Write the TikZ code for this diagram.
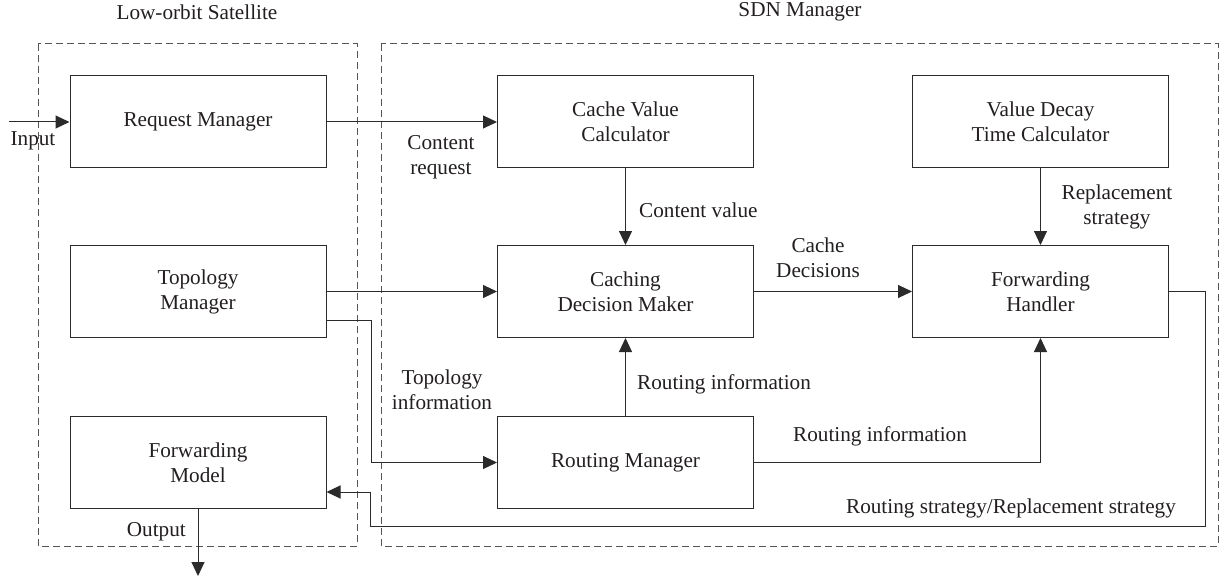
\documentclass[tikz,border=0pt]{standalone}
\usepackage{fontspec}
\setmainfont{Liberation Serif}
\usetikzlibrary{arrows.meta}
\definecolor{linec}{HTML}{2B2B2B}
\definecolor{dashc}{HTML}{555555}
\definecolor{txtc}{HTML}{231F20}
\begin{document}
\begin{tikzpicture}[x=1pt,y=-1pt,
  font=\fontsize{21.2}{25}\selectfont,
  blk/.style={draw=linec, line width=1pt, minimum width=256pt, minimum height=92pt, align=center, inner sep=0pt, text=txtc},
  conn/.style={draw=linec, line width=1pt, -{Triangle[length=14pt,width=13pt]}},
  grp/.style={draw=dashc, line width=1pt, dash pattern=on 7pt off 4pt},
  lbl/.style={align=center, inner sep=0pt, text=txtc}]
\fill[white] (0,0) rectangle (1225,580);
\useasboundingbox (0,0) rectangle (1225,580);

% groups
\draw[grp] (38,44) rectangle (357,546);
\draw[grp] (381,44) rectangle (1218,546);
\node[lbl] (tl) at (197,12) {Low-orbit Satellite};
\node[lbl] (tr) at (800,12) {SDN Manager};

% blocks
\node[blk] (reqm) at (198,122) {Request Manager};
\node[blk] (topm) at (198,291.5) {Topology\\Manager};
\node[blk] (fwdm) at (198,462.5) {Forwarding\\Model};
\node[blk] (cvc) at (625.5,122) {Cache Value\\Calculator};
\node[blk] (cdm) at (625.5,291.5) {Caching\\Decision Maker};
\node[blk] (rtm) at (625.5,462.5) {Routing Manager};
\node[blk] (vdt) at (1040.5,122) {Value Decay\\Time Calculator};
\node[blk] (fwh) at (1040.5,291.5) {Forwarding\\Handler};

% helper coordinates
\coordinate (in) at (9,122);
\coordinate (out) at (198,576);
\coordinate (tb) at (371,462.5);
\coordinate (fb1) at (1205,526);
\coordinate (fb2) at (370,492);

% connectors
\draw[conn] (in) -- (reqm.west);
\draw[conn] (reqm.east) -- (cvc.west);
\draw[conn] (topm.east) -- (cdm.west);
\draw[conn] ([yshift=-28.5pt]topm.east) -| (tb) -- (rtm.west);
\draw[conn] (cvc.south) -- (cdm.north);
\draw[conn] (vdt.south) -- (fwh.north);
\draw[conn] (cdm.east) -- (fwh.west);
\draw[conn] (rtm.north) -- (cdm.south);
\draw[conn] (rtm.east) -| (fwh.south);
\draw[conn] (fwh.east) -| (fb1) -| (fb2) -- (fb2 -| fwdm.east);
\draw[conn] (fwdm.south) -- (out);

% labels
\node[lbl] (linp) at (33,141) {Input};
\node[lbl] (lcr) at (441,157.5) {Content\\request};
\node[lbl, anchor=west] (lcv) at (639,210) {Content value};
\node[lbl] (lrs) at (1117,206.5) {Replacement\\strategy};
\node[lbl] (lcd) at (818,257.5) {Cache\\Decisions};
\node[lbl] (lti) at (442,390) {Topology\\information};
\node[lbl, anchor=west] (lri1) at (637,384) {Routing information};
\node[lbl, anchor=west] (lri2) at (793,436) {Routing information};
\node[lbl, anchor=east] (lrr) at (1176,508) {Routing strategy/Replacement strategy};
\node[lbl, anchor=east] (lout) at (186,532) {Output};
\end{tikzpicture}
\end{document}
